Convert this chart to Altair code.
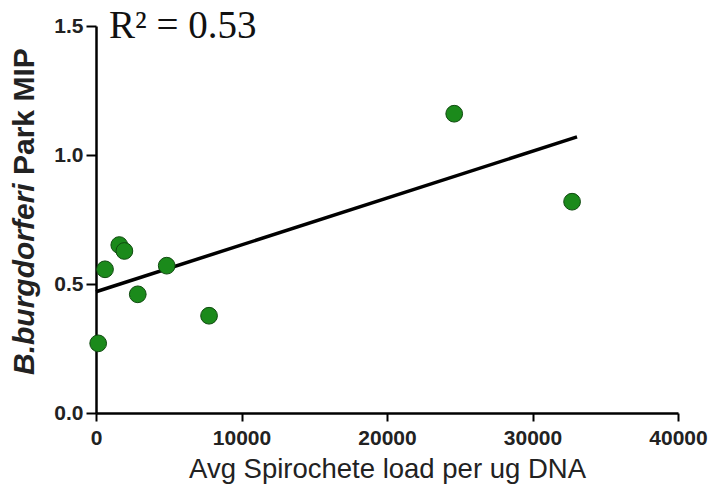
import altair as alt
import pandas as pd

# Spirochete load vs. Park MIP, one point per sample
load = [150, 620, 1600, 1950, 2870, 4860, 7770, 24620, 32720]
mip = [0.270, 0.557, 0.651, 0.628, 0.460, 0.571, 0.377, 1.160, 0.819]

# Linear fit, drawn between its two end points
fit_load = [0, 33060]
fit_mip = [0.470, 1.070]

r2_label = "R\u00b2 = 0.53"
y_title_parts = ["B.burgdorferi", "Park MIP"]

points = pd.DataFrame({"load": load, "mip": mip})
fit = pd.DataFrame({"load": fit_load, "mip": fit_mip})

W, H = 582, 387

x_scale = alt.Scale(domain=[0, 40000], nice=False, zero=False)
y_scale = alt.Scale(domain=[0, 1.5], nice=False)

x_axis = alt.Axis(
    values=[0, 10000, 20000, 30000, 40000], format="d",
    title="Avg Spirochete load per ug DNA", titleFontSize=27.5, titleFontWeight="normal",
    titleFont="Liberation Sans", titleColor="#222", titlePadding=7,
    labelFont="Liberation Sans", labelFontSize=21, labelFontWeight="bold", labelColor="#222",
    labelPadding=6, tickSize=8, tickWidth=2, tickColor="black",
    domainColor="black", domainWidth=2.5, grid=False, labelFlush=False,
)
y_axis = alt.Axis(
    values=[0, 0.5, 1.0, 1.5], format=".1f", title=None,
    labelFont="Liberation Sans", labelFontSize=21, labelFontWeight="bold", labelColor="#222",
    labelPadding=3, tickSize=10, tickWidth=2, tickColor="black",
    domainColor="black", domainWidth=2.5, grid=False,
)

line = alt.Chart(fit).mark_line(color="black", strokeWidth=3.5).encode(
    x=alt.X("load:Q", scale=x_scale, axis=x_axis),
    y=alt.Y("mip:Q", scale=y_scale, axis=y_axis),
)

dots = alt.Chart(points).mark_point(
    filled=True, shape="circle", size=280, fill="#1b8a1b", stroke="#0f4a0f",
    strokeWidth=1, opacity=1,
).encode(
    x=alt.X("load:Q", scale=x_scale),
    y=alt.Y("mip:Q", scale=y_scale),
)

r2 = alt.Chart(pd.DataFrame({"t": [r2_label]})).mark_text(
    font="Liberation Serif", fontSize=39, align="left", baseline="alphabetic", color="#111",
).encode(x=alt.value(13), y=alt.value(12), text="t:N")

# Axis title in two pieces: italic species name, then plain-style remainder
title_fs = 30
title_italic = alt.Chart(pd.DataFrame({"t": [y_title_parts[0]]})).mark_text(
    font="Liberation Sans", fontSize=title_fs, fontStyle="italic", fontWeight="bold",
    angle=270, align="left", baseline="middle", color="#222",
).encode(x=alt.value(-71), y=alt.value(349), text="t:N")

title_plain = alt.Chart(pd.DataFrame({"t": [y_title_parts[1]]})).mark_text(
    font="Liberation Sans", fontSize=title_fs, fontWeight="bold",
    angle=270, align="left", baseline="middle", color="#222",
).encode(x=alt.value(-71), y=alt.value(349 - 200), text="t:N")

chart = alt.layer(line, dots, r2, title_italic, title_plain).properties(
    width=W, height=H,
    padding={"left": 96, "top": 26, "right": 49, "bottom": 78},
    autosize="none",
    background="white",
).configure_view(stroke=None)

chart.save("out.html", embed_options={"renderer": "svg", "actions": False})
